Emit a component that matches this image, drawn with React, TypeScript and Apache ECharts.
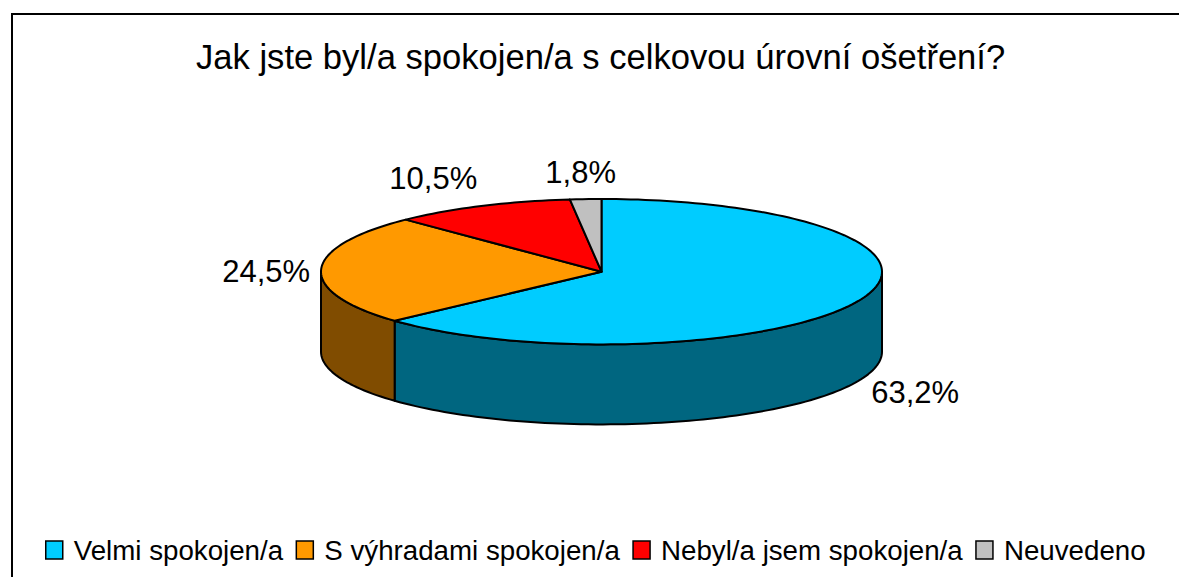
import React, { useEffect, useRef } from "react";
import * as echarts from "echarts";

const titleText = "Jak jste byl/a spokojen/a s celkovou úrovní ošetření?";
const categories = ["Velmi spokojen/a", "S výhradami spokojen/a", "Nebyl/a jsem spokojen/a", "Neuvedeno"];
const values = [63.2, 24.5, 10.5, 1.8];
const topColors = ["#00CCFF", "#FF9900", "#FF0000", "#C0C0C0"];
const sideColors = ["#006680", "#804C00", "#800000", "#606060"];
const labelOffsets = [[57, 12], [-55, 2], [-48, -28], [-5, -27]];

const CX = 601.5;
const CY = 271.7;
const RX = 280.5;
const RY = 72.7;
const DEPTH = 80;
const FONT = "Liberation Sans, Arial, sans-serif";

const total = values.reduce((a, b) => a + b, 0);
const pt = (deg: number, dy = 0): number[] => {
  const t = (deg * Math.PI) / 180;
  return [CX + RX * Math.sin(t), CY - RY * Math.cos(t) + dy];
};
const arc = (from: number, to: number, dy = 0): number[][] => {
  const n = Math.max(2, Math.ceil(Math.abs(to - from) / 1.5));
  const out: number[][] = [];
  for (let i = 0; i <= n; i++) out.push(pt(from + ((to - from) * i) / n, dy));
  return out;
};

export default function App() {
  const ref = useRef<HTMLDivElement>(null);
  useEffect(() => {
    const chart = echarts.init(ref.current!, undefined, { renderer: "svg" });
    const series = categories.map((name, idx) => ({
      type: "custom",
      name,
      coordinateSystem: "none",
      silent: true,
      itemStyle: { color: topColors[idx] },
      data: [[values[idx]]],
      renderItem: (_p: any, api: any) => {
        const before = values.slice(0, idx).reduce((a, b) => a + b, 0);
        const a0 = (before / total) * 360;
        const a1 = a0 + (api.value(0) / total) * 360;
        const children: any[] = [];
        const s0 = Math.max(a0, 90);
        const s1 = Math.min(a1, 270);
        if (s1 > s0) {
          children.push({
            type: "polygon",
            shape: { points: [...arc(s0, s1), ...arc(s1, s0, DEPTH)] },
            style: { fill: sideColors[idx], stroke: "#000", lineWidth: 2, lineJoin: "round" },
          });
        }
        children.push({
          type: "polygon",
          shape: { points: [[CX, CY], ...arc(a0, a1)] },
          style: { fill: topColors[idx], stroke: "#000", lineWidth: 2, lineJoin: "round" },
        });
        const mid = (a0 + a1) / 2;
        const edge = pt(mid, Math.cos((mid * Math.PI) / 180) < 0 && Math.abs(Math.sin((mid * Math.PI) / 180)) < 0.95 ? DEPTH : 0);
        children.push({
          type: "text",
          style: {
            x: edge[0] + labelOffsets[idx][0],
            y: edge[1] + labelOffsets[idx][1],
            text: api.value(0).toFixed(1).replace(".", ",") + "%",
            font: `31px ${FONT}`,
            fill: "#000",
            align: "center",
            verticalAlign: "middle",
          },
        });
        return { type: "group", children };
      },
    }));
    chart.setOption({
      animation: false,
      backgroundColor: "#fff",
      title: {
        text: titleText,
        left: 191,
        top: 34,
        textStyle: { fontFamily: FONT, fontSize: 34.6, fontWeight: "normal", color: "#000" },
      },
      legend: {
        left: 40,
        top: 531,
        icon: "rect",
        itemWidth: 17,
        itemHeight: 18,
        itemGap: 12.5,
        selectedMode: false,
        data: categories,
        itemStyle: { borderColor: "#000", borderWidth: 1.5 },
        textStyle: { fontFamily: FONT, fontSize: 27.7, color: "#000", padding: [0, 0, 0, 6] },
      },
      graphic: [
        { type: "line", shape: { x1: 12, y1: 14, x2: 12, y2: 577 }, style: { stroke: "#000", lineWidth: 2 } },
        { type: "line", shape: { x1: 11, y1: 14, x2: 1179, y2: 14 }, style: { stroke: "#000", lineWidth: 2 } },
      ],
      series,
    });
    return () => chart.dispose();
  }, []);
  return <div ref={ref} style={{ position: "absolute", left: 0, top: 0, width: 1179, height: 577 }} />;
}
